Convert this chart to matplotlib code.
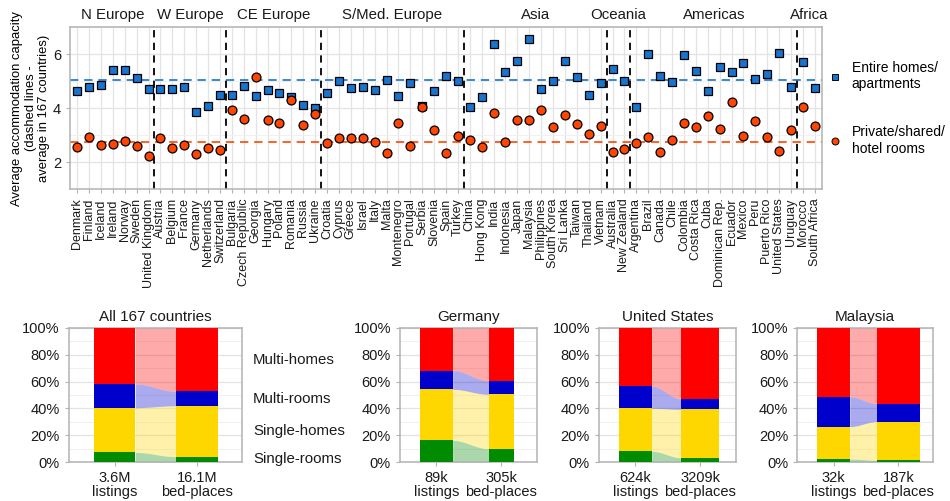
import numpy as np
import matplotlib
matplotlib.use("Agg")
import matplotlib.pyplot as plt
import matplotlib.transforms as mtransforms
from matplotlib.lines import Line2D
from matplotlib.ticker import PercentFormatter, MultipleLocator

plt.rcParams['font.family'] = ['Liberation Sans', 'DejaVu Sans']

# ---------------- data: average capacity per listing ----------------
countries = [
    "Denmark", "Finland", "Iceland", "Ireland", "Norway", "Sweden", "United Kingdom",
    "Austria", "Belgium", "France", "Germany", "Netherlands", "Switzerland",
    "Bulgaria", "Czech Republic", "Georgia", "Hungary", "Poland", "Romania", "Russia", "Ukraine",
    "Croatia", "Cyprus", "Greece", "Israel", "Italy", "Malta", "Montenegro", "Portugal",
    "Serbia", "Slovenia", "Spain", "Turkey",
    "China", "Hong Kong", "India", "Indonesia", "Japan", "Malaysia", "Philippines",
    "South Korea", "Sri Lanka", "Taiwan", "Thailand", "Vietnam",
    "Australia", "New Zealand",
    "Argentina", "Brazil", "Canada", "Chile", "Colombia", "Costa Rica", "Cuba",
    "Dominican Rep.", "Ecuador", "Mexico", "Peru", "Puerto Rico", "United States", "Uruguay",
    "Morocco", "South Africa",
]
regions = ["N Europe", "W Europe", "CE Europe", "S/Med. Europe", "Asia", "Oceania", "Americas", "Africa"]
region_sizes = [7, 6, 8, 12, 12, 2, 14, 2]

entire_homes = [
    4.64, 4.78, 4.88, 5.42, 5.42, 5.14, 4.70,
    4.70, 4.73, 4.78, 3.87, 4.08, 4.51,
    4.50, 4.83, 4.46, 4.66, 4.58, 4.42, 4.13, 4.00,
    4.56, 5.00, 4.75, 4.78, 4.67, 5.06, 4.46, 4.92, 4.08, 4.63, 5.18, 5.00,
    4.05, 4.42, 6.38, 5.34, 5.74, 6.55, 4.73, 5.01, 5.74, 5.17, 4.48, 4.94,
    5.44, 5.01,
    4.05, 6.01, 5.18, 4.97, 5.96, 5.37, 4.64, 5.54, 5.34, 5.66, 5.07, 5.27, 6.03, 4.79,
    5.73, 4.74,
]
private_rooms = [
    2.58, 2.92, 2.63, 2.66, 2.80, 2.59, 2.22,
    2.89, 2.52, 2.63, 2.32, 2.52, 2.47,
    3.93, 3.62, 5.16, 3.57, 3.45, 4.32, 3.39, 3.79,
    2.70, 2.91, 2.89, 2.89, 2.76, 2.34, 3.44, 2.59, 4.05, 3.20, 2.35, 2.97,
    2.82, 2.56, 3.82, 2.77, 3.57, 3.55, 3.93, 3.29, 3.76, 3.41, 3.06, 3.34,
    2.38, 2.50,
    2.70, 2.94, 2.37, 2.82, 3.45, 3.31, 3.73, 3.24, 4.23, 2.96, 3.52, 2.93, 2.42, 3.18,
    4.04, 3.34,
]
avg_entire = 5.06
avg_private = 2.77

# ---------------- data: listing composition ----------------
panel_titles = ["All 167 countries", "Germany", "United States", "Malaysia"]
listings_text = ["3.6M", "89k", "624k", "32k"]
bedplaces_text = ["16.1M", "305k", "3209k", "187k"]
listings_count = [3.6e6, 89e3, 624e3, 32e3]
bedplaces_count = [16.1e6, 305e3, 3209e3, 187e3]
segments = ["Single-rooms", "Single-homes", "Multi-rooms", "Multi-homes"]
share_listings = [
    [0.074, 0.332, 0.176, 0.418],
    [0.163, 0.379, 0.139, 0.319],
    [0.082, 0.319, 0.164, 0.435],
    [0.025, 0.240, 0.222, 0.513],
]
share_bedplaces = [
    [0.042, 0.378, 0.107, 0.473],
    [0.101, 0.404, 0.101, 0.394],
    [0.034, 0.360, 0.076, 0.530],
    [0.015, 0.287, 0.133, 0.565],
]

# ---------------- styling ----------------
BLUE_PT = "#1874CD"
RED_PT = "#FF4500"
SEG_COLORS = ["#008B00", "#FFD700", "#0000CD", "#FF0000"]
FRAME = "#B3B3B3"
GRID = "#E3E3E3"
GRID_MINOR = "#F0F0F0"

W, H = 950, 501
fig = plt.figure(figsize=(W / 100, H / 100), dpi=100)


def px_axes(left, top, right, bottom):
    return fig.add_axes([left / W, 1 - bottom / H, (right - left) / W, (bottom - top) / H])


def frame(ax):
    for s in ax.spines.values():
        s.set_color(FRAME)
        s.set_linewidth(1.1)
    ax.tick_params(color=FRAME, length=3, width=0.8)
    ax.tick_params(axis="both", labelcolor="#1a1a1a")


# ---------------- top: capacity by country ----------------
ax = px_axes(70, 27.3, 822, 189.3)
frame(ax)
x = np.arange(len(countries))
ax.set_xlim(-0.6, len(countries) - 0.4)
ax.set_ylim(1, 7)
ax.set_yticks([2, 4, 6])
ax.yaxis.set_minor_locator(MultipleLocator(1))
ax.tick_params(axis="y", which="minor", length=0)
ax.grid(True, which="major", color=GRID, linewidth=0.9)
ax.grid(True, which="minor", axis="y", color=GRID_MINOR, linewidth=0.7)
ax.set_axisbelow(True)
ax.set_xticks(x)
ax.set_xticklabels(countries, rotation=90, fontsize=9)
ax.tick_params(axis="y", labelsize=10.5)

ax.axhline(avg_entire, color=BLUE_PT, linestyle=(0, (5, 3.5)), linewidth=1.2, zorder=2)
ax.axhline(avg_private, color=RED_PT, linestyle=(0, (5, 3.5)), linewidth=1.2, zorder=2)

bounds = np.cumsum(region_sizes)
for b in bounds[:-1]:
    ax.axvline(b - 0.5, color="black", linestyle=(0, (4, 3)), linewidth=1.3, zorder=2)
starts = np.concatenate([[0], bounds[:-1]])
trans_top = mtransforms.blended_transform_factory(ax.transData, ax.transAxes)
for name, s, e in zip(regions, starts, bounds):
    ax.text((s + e - 1) / 2, 1.076, name, transform=trans_top, ha="center", va="center",
            fontsize=10.8, color="#1a1a1a")

ax.plot(x, entire_homes, linestyle="none", marker="s", markersize=5.8, markerfacecolor=BLUE_PT,
        markeredgecolor="black", markeredgewidth=0.9, zorder=3)
ax.plot(x, private_rooms, linestyle="none", marker="o", markersize=6.4, markerfacecolor=RED_PT,
        markeredgecolor="black", markeredgewidth=0.9, zorder=3)

ax.set_ylabel("Average accommodation capacity\n(dashed lines -\naverage in 167 countries)",
              fontsize=9.4, linespacing=1.2)
ax.yaxis.set_label_coords(-0.026, 0.5)

handles = [
    Line2D([], [], linestyle="none", marker="s", markersize=4.5, markerfacecolor=BLUE_PT,
           markeredgecolor="black", markeredgewidth=0.7),
    Line2D([], [], linestyle="none", marker="o", markersize=5, markerfacecolor=RED_PT,
           markeredgecolor="black", markeredgewidth=0.7),
]
ax.legend(handles, ["Entire homes/\napartments", "Private/shared/\nhotel rooms"],
          loc="center left", bbox_to_anchor=(1.008, 0.5), frameon=False, fontsize=10,
          borderpad=0, borderaxespad=0,
          handlelength=1.0, handletextpad=0.7, labelspacing=2.45)

# ---------------- bottom: listing composition ----------------
panel_px = [(68.5, 241.5), (400, 536.5), (599, 735.5), (797.3, 933.3)]
for i, (l, r) in enumerate(panel_px):
    bx = px_axes(l, 327.7, r, 462.3)
    frame(bx)
    bx.set_xlim(0.44, 2.54)
    bx.set_ylim(0, 1)
    bx.yaxis.set_major_locator(MultipleLocator(0.2))
    bx.yaxis.set_minor_locator(MultipleLocator(0.1))
    bx.yaxis.set_major_formatter(PercentFormatter(1.0, decimals=0))
    bx.tick_params(axis="y", which="minor", length=0)
    bx.grid(True, axis="y", which="major", color=GRID, linewidth=0.9)
    bx.grid(True, axis="y", which="minor", color=GRID_MINOR, linewidth=0.7)
    bx.set_axisbelow(True)
    bx.tick_params(axis="both", labelsize=10.5)
    bx.set_title(panel_titles[i], fontsize=11, pad=5, color="#1a1a1a")

    w1 = 0.5
    w2 = 0.114 * bedplaces_count[i] / listings_count[i]
    cum1 = np.concatenate([[0], np.cumsum(share_listings[i])])
    cum2 = np.concatenate([[0], np.cumsum(share_bedplaces[i])])
    cum1[-1] = cum2[-1] = 1.0
    for k in range(len(segments)):
        bx.bar(1, cum1[k + 1] - cum1[k], bottom=cum1[k], width=w1, color=SEG_COLORS[k],
               linewidth=0, zorder=3)
        bx.bar(2, cum2[k + 1] - cum2[k], bottom=cum2[k], width=w2, color=SEG_COLORS[k],
               linewidth=0, zorder=3)
        xa, xb = 1 + w1 / 2, 2 - w2 / 2
        t = np.linspace(0, 1, 60)
        s = (1 - np.cos(np.pi * t)) / 2
        xs = xa + (xb - xa) * t
        lo = cum1[k] + (cum2[k] - cum1[k]) * s
        hi = cum1[k + 1] + (cum2[k + 1] - cum1[k + 1]) * s
        bx.fill_between(xs, lo, hi, color=SEG_COLORS[k], alpha=1 / 3, linewidth=0, zorder=2)

    bx.set_xticks([1, 2])
    bx.set_xticklabels([f"{listings_text[i]}\nlistings", f"{bedplaces_text[i]}\nbed-places"],
                       linespacing=1.0)

    if i == 0:
        trans_r = mtransforms.blended_transform_factory(bx.transAxes, bx.transData)
        mids = (cum2[:-1] + cum2[1:]) / 2
        for name, m in zip(segments, mids):
            bx.text(1.066, max(m, 0.012), name, transform=trans_r, ha="left", va="center",
                    fontsize=10.8, color="#1a1a1a", clip_on=False)

fig.savefig("out.png", dpi=100)
